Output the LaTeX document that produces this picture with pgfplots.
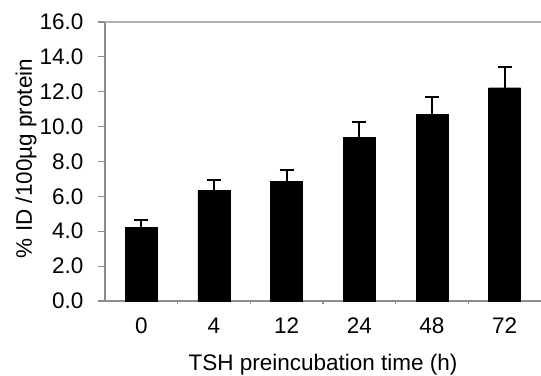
\documentclass[border=0pt]{standalone}
\usepackage{fontspec}
\setmainfont{Liberation Sans}
\usepackage{pgfplots}
\pgfplotsset{compat=1.18}
\pgfplotstableread{
x y e
0 4.22 0.41
1 6.36 0.58
2 6.88 0.61
3 9.40 0.86
4 10.70 1.02
5 12.23 1.17
}\datatable
\newcommand{\chartfont}{\fontsize{22.5bp}{27bp}\selectfont}
\begin{document}
\begin{tikzpicture}
\begin{axis}[
  at={(0,0)}, anchor=south west,
  width=436bp, height=279bp, scale only axis,
  xmin=-0.5, xmax=5.5, ymin=0, ymax=16,
  axis lines*=left,
  axis line style={draw=gray!90, line width=1.2bp},
  tick align=outside,
  ytick={0,2,...,16},
  yticklabel style={xshift=-11bp, /pgf/number format/.cd, fixed, fixed zerofill, precision=1, assume math mode=true},
  y tick style={draw=gray!90, line width=1.2bp},
  major tick length=7bp,
  xtick={0,...,5},
  xticklabels={0,4,12,24,48,72},
  xticklabel style={yshift=-6bp},
  x tick style={draw=none},
  minor xtick={0.5,1.5,2.5,3.5,4.5},
  minor x tick style={draw=gray!90, line width=1.2bp},
  minor tick length=3bp,
  tick label style={font=\chartfont},
  label style={font=\chartfont},
  xlabel={TSH preincubation time (h)},
  xlabel style={at={([yshift=-69bp]axis description cs:0.5,0)}, anchor=base},
  ylabel={\% ID /100µg protein},
  ylabel style={at={([xshift=-73bp,yshift=3bp]axis description cs:0,0.5)}, anchor=base},
  clip=false,
]
\addplot[ybar, bar width=32bp, fill=black, draw=black,
  error bars/.cd, y dir=plus, y explicit,
  error bar style={line width=2.2bp, black},
  error mark options={rotate=90, mark size=7bp, line width=2.2bp, black}]
  table[x=x, y=y, y error=e] {\datatable};
\draw[gray!60, line width=1.2bp] (rel axis cs:0,1) -- (rel axis cs:1,1);
\end{axis}
\pgfresetboundingbox
\path (-105bp,-75bp) rectangle (436bp,301bp);
\end{tikzpicture}
\end{document}
